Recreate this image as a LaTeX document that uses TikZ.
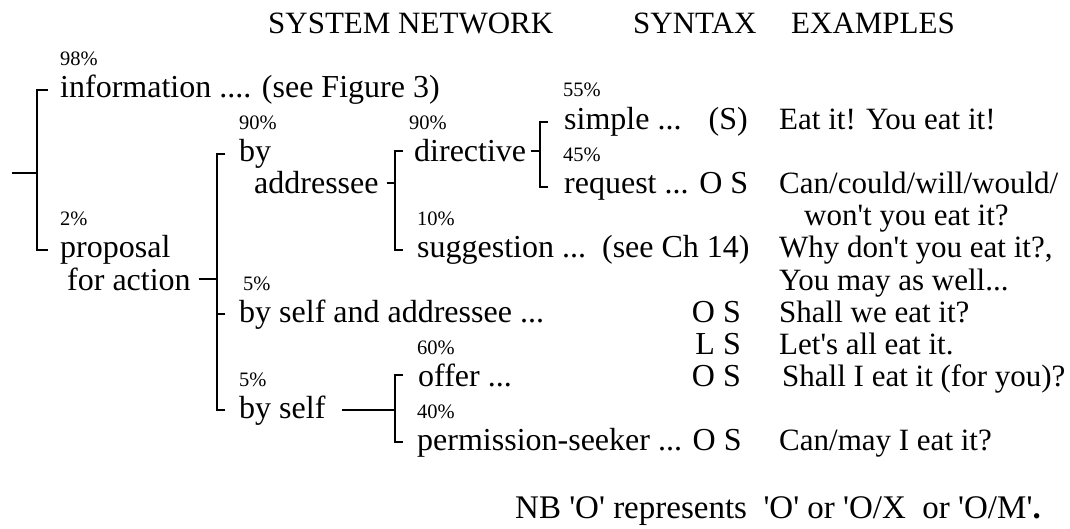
\documentclass[tikz,border=0pt]{standalone}
\usepackage{fontspec}
\setmainfont{Liberation Serif}
\newcommand\qs{\textquotesingle}
\begin{document}
\begin{tikzpicture}[x=1pt,y=-1pt,
  ttl/.style={font=\fontsize{31}{31}\selectfont, anchor=base west, inner sep=0pt},
  txt/.style={font=\fontsize{32}{32}\selectfont, anchor=base west, inner sep=0pt},
  txr/.style={font=\fontsize{32}{32}\selectfont, anchor=base east, inner sep=0pt},
  exm/.style={font=\fontsize{31}{31}\selectfont, anchor=base west, inner sep=0pt},
  pct/.style={font=\fontsize{20.5}{20.5}\selectfont, anchor=base west, inner sep=0pt},
  ln/.style={line width=2pt}]
\useasboundingbox (0,0) rectangle (1070,529);
% titles
\node[ttl] (t1) at (268,34) {SYSTEM NETWORK};
\node[ttl] (t2) at (633,34) {SYNTAX};
\node[ttl] (t3) at (791,34) {EXAMPLES};
% level 1
\node[pct] (p98) at (60,66) {98\%};
\node[txt] (info) at (60,98) {information .... (see Figure 3)};
\node[pct] (p2) at (60,226) {2\%};
\node[txt] (prop) at (60,258) {proposal};
\node[txt] (fora) at (67,290) {for action};
% level 2
\node[pct] (p90a) at (239,130) {90\%};
\node[txt] (by) at (239,162) {by};
\node[txt] (addr) at (254,194) {addressee};
\node[pct] (p5a) at (243,290) {5\%};
\node[txt] (bsa) at (239,322) {by self and addressee ...};
\node[pct] (p5b) at (239,386) {5\%};
\node[txt] (bself) at (239,418) {by self};
% level 3
\node[pct] (p90b) at (409,130) {90\%};
\node[txt] (dir) at (414,162) {directive};
\node[pct] (p10) at (417,226) {10\%};
\node[txt] (sugg) at (417,258) {suggestion ...\ \ (see Ch 14)};
\node[pct] (p60) at (417,354) {60\%};
\node[txt] (offer) at (418,386) {offer ...};
\node[pct] (p40) at (417,418) {40\%};
\node[txt] (perm) at (417,450) {permission-seeker ... O S};
% level 4
\node[pct] (p55) at (563,97) {55\%};
\node[txt] (simple) at (564,130) {simple ...};
\node[pct] (p45) at (563,162) {45\%};
\node[txt] (req) at (564,194) {request ... O S};
% syntax column
\node[txr] (s1) at (748,130) {(S)};
\node[txr] (s2) at (741,322) {O S};
\node[txr] (s3) at (741,354) {L S};
\node[txr] (s4) at (741,386) {O S};
% examples
\node[exm] (e1) at (779,130) {Eat it! You eat it!};
\node[exm] (e2) at (779,194) {Can/could/will/would/};
\node[exm] (e3) at (804,226) {won\qs{}t you eat it?};
\node[exm] (e4) at (779,258) {Why don\qs{}t you eat it?,};
\node[exm] (e5) at (779,290) {You may as well...};
\node[exm] (e6) at (779,322) {Shall we eat it?};
\node[exm] (e7) at (779,354) {Let\qs{}s all eat it.};
\node[exm] (e8) at (782,386) {Shall I eat it (for you)?};
\node[exm] (e9) at (779,450) {Can/may I eat it?};
\node[anchor=base west, inner sep=0pt, font=\fontsize{33}{33}\selectfont] (nb) at (515,518)
  {NB \qs{}O\qs{} represents\ \ \qs{}O\qs{} or \qs{}O/X\ \ or \qs{}O/M\qs{}\textbf{.}};
% bracket x positions
\coordinate (x1) at (37,0);
\coordinate (x2) at (217,0);
\coordinate (x3) at (395,0);
\coordinate (x4) at (540,0);
\coordinate (x5) at (395,0);
\coordinate (root) at (12,173);
% brackets
\draw[ln] (root) -- (x1 |- root);
\draw[ln] ([xshift=-12pt]info.west) -- (x1 |- info.west) -- (x1 |- prop.west) -- ([xshift=-12pt]prop.west);
\draw[ln] ([xshift=8pt]fora.east) -- (x2 |- fora.east);
\draw[ln] ([xshift=-14pt]by.west) -- (x2 |- by.west) -- (x2 |- bself.west) -- ([xshift=-14pt]bself.west);
\draw[ln] (x2 |- bsa.west) -- ([xshift=-14pt]bsa.west);
\draw[ln] ([xshift=8pt]addr.east) -- (x3 |- addr.east);
\draw[ln] ([xshift=-11pt]dir.west) -- (x3 |- dir.west) -- (x3 |- sugg.west) -- ([xshift=-14pt]sugg.west);
\draw[ln] ([xshift=5pt]dir.east) -- (x4 |- dir.east);
\draw[ln] ([xshift=-16pt]simple.west) -- (x4 |- simple.west) -- (x4 |- req.west) -- ([xshift=-16pt]req.west);
\draw[ln] ([xshift=16pt]bself.east) -- (x5 |- bself.east);
\draw[ln] ([xshift=-15pt]offer.west) -- (x5 |- offer.west) -- (x5 |- perm.west) -- ([xshift=-14pt]perm.west);
\end{tikzpicture}
\end{document}
